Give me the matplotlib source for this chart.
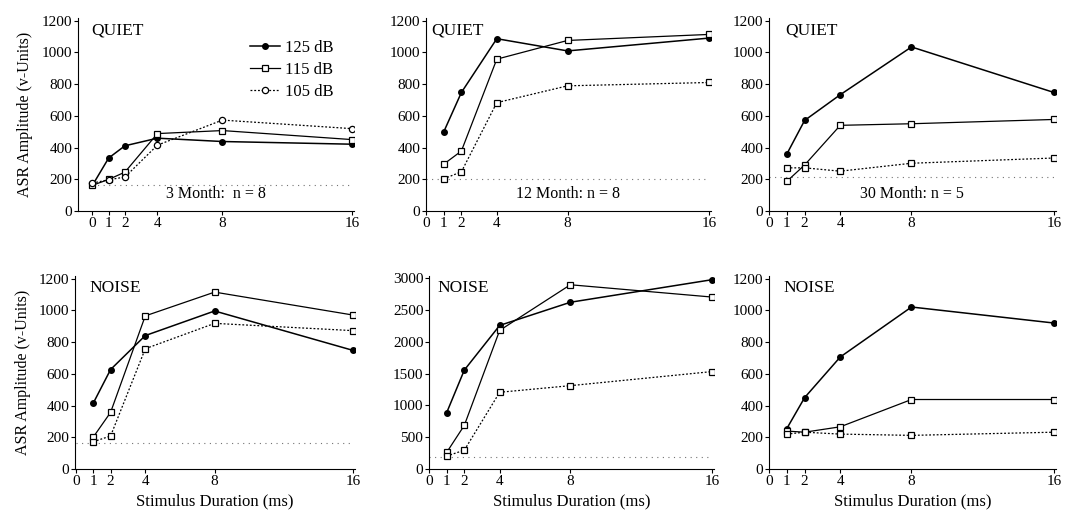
import numpy as np
import matplotlib
matplotlib.use("Agg")
import matplotlib.pyplot as plt

plt.rcParams['font.family'] = ['Liberation Serif', 'DejaVu Serif']

# stimulus durations (ms)
dur = [1, 2, 4, 8, 16]
dur0 = [0, 1, 2, 4, 8, 16]
xticks = [0, 1, 2, 4, 8, 16]

# top row: QUIET
q3_125 = [162, 334, 411, 459, 438, 421]
q3_115 = [162, 199, 245, 488, 507, 450]
q3_105 = [176, 197, 214, 415, 573, 519]
q3_base = 166

q12_125 = [498, 747, 1086, 1009, 1090]
q12_115 = [295, 378, 957, 1075, 1113]
q12_105 = [203, 247, 683, 789, 810]
q12_base = 203

q30_125 = [359, 571, 733, 1034, 747]
q30_115 = [187, 290, 540, 550, 577]
q30_105 = [272, 272, 251, 301, 334]
q30_base = 214

# bottom row: NOISE
n3_125 = [415, 627, 841, 996, 747]
n3_115 = [201, 357, 965, 1115, 970]
n3_105 = [172, 208, 758, 918, 872]
n3_base = 166

n12_125 = [884, 1555, 2257, 2621, 2975]
n12_115 = [260, 686, 2179, 2896, 2703]
n12_105 = [203, 296, 1206, 1310, 1531]
n12_base = 182

n30_125 = [255, 450, 706, 1021, 920]
n30_115 = [239, 232, 266, 438, 438]
n30_105 = [220, 232, 220, 212, 232]

fig = plt.figure(figsize=(10.66, 5.21), dpi=100)

def panel(rect, x, s125, s115, s105, xlim, ylim, yticks, title, tx=0.05, base=None,
          note=None, circ=False, ylab=False, xlab=False):
  ax = fig.add_axes(rect)
  if base is not None:
    ax.plot([0, 16], [base, base], ls=(0, (1, 4)), c='0.45', lw=0.8)
  ax.plot(x, s125, c='k', lw=1.1, marker='o', ms=4, mfc='k', label='125 dB')
  ax.plot(x, s115, c='k', lw=0.9, marker='s', ms=5, mfc='white', mew=0.9, label='115 dB')
  ax.plot(x, s105, c='k', lw=0.9, ls=(0, (1.5, 1.5)), marker='o' if circ else 's',
          ms=4.5 if circ else 5, mfc='white', mew=0.9, label='105 dB')
  ax.set_xlim(xlim)
  ax.set_ylim(ylim)
  ax.set_xticks(xticks)
  ax.set_yticks(yticks)
  ax.spines['top'].set_visible(False)
  ax.spines['right'].set_visible(False)
  ax.tick_params(labelsize=11, length=3, width=0.8, pad=1)
  ax.text(tx, 0.98, title, transform=ax.transAxes, fontsize=12.5, va='top')
  if note:
    ax.text(0.5, 0.07, note, transform=ax.transAxes, fontsize=11.5, ha='center')
  if ylab:
    ax.set_ylabel('ASR Amplitude (v-Units)', fontsize=11.5, labelpad=6)
  if xlab:
    ax.set_xlabel('Stimulus Duration (ms)', fontsize=12, labelpad=4)
  return ax

yt = np.arange(0, 1201, 200)
a1 = panel([0.073, 0.595, 0.259, 0.37], dur0, q3_125, q3_115, q3_105, (-0.9, 16.1), (0, 1215), yt,
           'QUIET', 0.05, q3_base, '3 Month:  n = 8', circ=True, ylab=True)
a1.legend(loc='upper right', bbox_to_anchor=(0.95, 0.92), frameon=False, fontsize=12,
          handlelength=1.8, handletextpad=0.3, labelspacing=0.35, borderaxespad=0)
panel([0.3996, 0.595, 0.2674, 0.37], dur, q12_125, q12_115, q12_105, (0, 16.1), (0, 1215), yt,
      'QUIET', 0.02, q12_base, '12 Month: n = 8')
panel([0.7214, 0.595, 0.269, 0.37], dur, q30_125, q30_115, q30_105, (0, 16.1), (0, 1215), yt,
      'QUIET', 0.055, q30_base, '30 Month: n = 5')

panel([0.0704, 0.0998, 0.2627, 0.37], dur, n3_125, n3_115, n3_105, (-0.05, 16.1), (0, 1215), yt,
      'NOISE', 0.05, n3_base, ylab=True, xlab=True)
panel([0.4024, 0.0998, 0.267, 0.37], dur, n12_125, n12_115, n12_105, (0, 16.1), (0, 3030),
      np.arange(0, 3001, 500), 'NOISE', 0.03, n12_base, xlab=True)
panel([0.7214, 0.0998, 0.269, 0.37], dur, n30_125, n30_115, n30_105, (0, 16.1), (0, 1215), yt,
      'NOISE', 0.05, xlab=True)

plt.savefig('out.png', dpi=100)
